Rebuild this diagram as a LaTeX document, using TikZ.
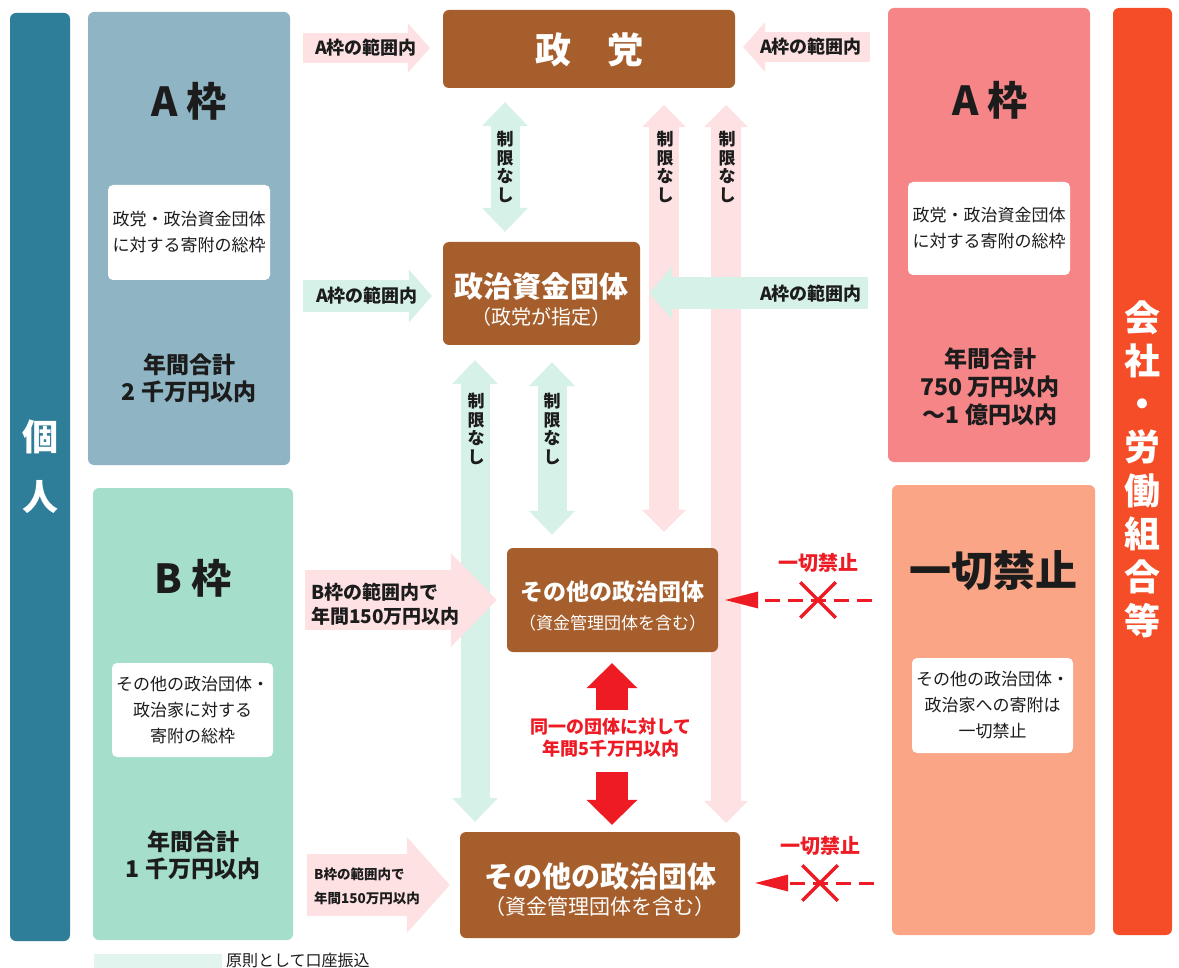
\documentclass[tikz,border=0pt]{standalone}
\usepackage{fontspec}
\setmainfont{Noto Sans CJK JP}
\usetikzlibrary{arrows.meta,shapes.misc}
\definecolor{kojinC}{HTML}{2E7D99}
\definecolor{aLeftC}{HTML}{8FB5C5}
\definecolor{bLeftC}{HTML}{A5DECB}
\definecolor{brownC}{HTML}{A65F2C}
\definecolor{pinkArr}{HTML}{FDE1E3}
\definecolor{greenArr}{HTML}{D6F1E8}
\definecolor{redC}{HTML}{EE1B24}
\definecolor{aRightC}{HTML}{F58587}
\definecolor{kinshiC}{HTML}{F9A586}
\definecolor{kaishaC}{HTML}{F44D27}
\definecolor{legC}{HTML}{E2F4EE}
\definecolor{inkC}{HTML}{1C1C1C}
\newcommand\fsz[2]{\fontsize{#1}{#2}\selectfont}
\pgfdeclarelayer{bg}
\pgfsetlayers{bg,main}
\tikzset{
 panel/.style={rounded corners=6pt, inner sep=0pt},
 whitebox/.style={fill=white, rounded corners=5pt, inner sep=0pt, align=center, text=inkC, font=\fsz{17}{26}},
 brownbox/.style={fill=brownC, rounded corners=6pt, inner sep=0pt},
 lbl/.style={inner sep=0pt, align=center, text=inkC},
 headline/.style={lbl, font=\fsz{40}{40}\bfseries},
 total/.style={lbl, font=\fsz{23}{27}\bfseries},
 wtxt/.style={inner sep=0pt, text=white},
 vlabel/.style={lbl, font=\fsz{17}{18.5}\bfseries},
 arrlbl/.style={lbl, font=\fsz{18}{18}\bfseries},
 pinkH/.style={draw=pinkArr, line width=30pt, -{Triangle[length=22pt,width=50pt,line width=0pt]}},
 greenH/.style={draw=greenArr, line width=32pt, -{Triangle[length=23pt,width=53pt,line width=0pt]}},
 pinkV/.style={draw=pinkArr, line width=30pt, {Triangle[length=22pt,width=44pt,line width=0pt]}-{Triangle[length=22pt,width=44pt,line width=0pt]}},
 greenV/.style={draw=greenArr, line width=29pt, {Triangle[length=24pt,width=46pt,line width=0pt]}-{Triangle[length=24pt,width=46pt,line width=0pt]}},
 pinkB/.style={draw=pinkArr, line width=60pt, -{Triangle[length=46pt,width=94pt,line width=0pt]}},
 pinkBB/.style={draw=pinkArr, line width=62pt, -{Triangle[length=43pt,width=96pt,line width=0pt]}},
 redF/.style={draw=redC, line width=32pt, -{Triangle[length=25pt,width=51pt,line width=0pt]}},
 redD/.style={draw=redC, line width=3pt, dash pattern=on 15pt off 8pt, -{Triangle[length=33pt,width=17pt,line width=0pt]}},
 ban/.style={cross out, draw=redC, line width=3.5pt, minimum width=32pt, minimum height=32pt, inner sep=0pt},
}
\begin{document}
\begin{tikzpicture}[x=1pt,y=-1pt]
\useasboundingbox (0,0) rectangle (1179,968);

% side bars
\node[panel, fill=kojinC, minimum width=60pt, minimum height=928pt] (kojin) at (40,477) {};
\node[wtxt, font=\fsz{36}{60}\bfseries, align=center] (kojinT) at (40,467) {個\\人};
\node[panel, fill=kaishaC, minimum width=59pt, minimum height=927pt] (kaisha) at (1142.5,471.5) {};
\node[wtxt, font=\fsz{36}{43.3}\bfseries, align=center] (kaishaT) at (1142,469) {会\\社\\・\\労\\働\\組\\合\\等};

% left panels
\node[panel, fill=aLeftC, minimum width=202pt, minimum height=453pt] (aL) at (189,238.5) {};
\node[headline] (aLt) at (189,101) {A 枠};
\node[whitebox, minimum width=162pt, minimum height=95pt] (aLw) at (189,232.5) {政党・政治資金団体\\に対する寄附の総枠};
\node[total] (aLs) at (189,378) {年間合計\\2 千万円以内};

\node[panel, fill=bLeftC, minimum width=200pt, minimum height=452pt] (bL) at (193,714) {};
\node[headline] (bLt) at (193,578) {B 枠};
\node[whitebox, minimum width=161pt, minimum height=94pt] (bLw) at (192.5,710) {その他の政治団体・\\政治家に対する\\寄附の総枠};
\node[total] (bLs) at (193,855) {年間合計\\1 千万円以内};

% right panels
\node[panel, fill=aRightC, minimum width=202pt, minimum height=454pt] (aR) at (989,235) {};
\node[headline] (aRt) at (990,100) {A 枠};
\node[whitebox, minimum width=162pt, minimum height=93pt] (aRw) at (989,228.5) {政党・政治資金団体\\に対する寄附の総枠};
\node[lbl, font=\fsz{23}{28}\bfseries] (aRs) at (990,387) {年間合計\\750 万円以内\\～1 億円以内};

\node[panel, fill=kinshiC, minimum width=203pt, minimum height=450pt] (kin) at (993.5,710) {};
\node[lbl, font=\fsz{42}{42}\bfseries] (kint) at (993,571) {一切禁止};
\node[whitebox, minimum width=161pt, minimum height=95pt] (kinw) at (992.5,705.5) {その他の政治団体・\\政治家への寄附は\\一切禁止};

% brown boxes
\node[brownbox, minimum width=292pt, minimum height=78pt] (seito) at (589,49) {};
\node[wtxt, font=\fsz{36}{36}\bfseries] (seitoT) at (589,50) {政　党};
\node[brownbox, minimum width=197pt, minimum height=103pt] (shikin) at (541.5,293.5) {};
\node[wtxt, font=\fsz{29}{29}\bfseries] (shikinT) at (541.5,286) {政治資金団体};
\node[wtxt, font=\fsz{20}{20}] (shikinS) at (541.5,317) {（政党が指定）};
\node[brownbox, minimum width=211pt, minimum height=104pt] (sonota1) at (612.5,600) {};
\node[wtxt, font=\fsz{23}{23}\bfseries] (sonota1T) at (612.5,592) {その他の政治団体};
\node[wtxt, font=\fsz{17}{17}] (sonota1S) at (612.5,623) {（資金管理団体を含む）};
\node[brownbox, minimum width=280pt, minimum height=106pt] (sonota2) at (600,885) {};
\node[wtxt, font=\fsz{29}{29}\bfseries] (sonota2T) at (600,876) {その他の政治団体};
\node[wtxt, font=\fsz{21}{21}] (sonota2S) at (600,907) {（資金管理団体を含む）};

% x positions of the vertical arrows
\coordinate (xP1) at (664,0);
\coordinate (xP2) at (726,0);
\coordinate (xG0) at (505,0);
\coordinate (xG1) at (475,0);
\coordinate (xG2) at (552,0);

\begin{pgfonlayer}{bg}
\fill[white] (0,0) rectangle (1179,968);
\draw[pinkV, shorten <=17pt, shorten >=16pt] (seito.south -| xP1) -- (sonota1.north -| xP1);
\draw[pinkV, shorten <=17pt, shorten >=9pt] (seito.south -| xP2) -- (sonota2.north -| xP2);
\draw[greenV, shorten <=14pt, shorten >=10pt] (seito.south -| xG0) -- (shikin.north -| xG0);
\draw[greenV, shorten <=15pt, shorten >=10pt] (shikin.south -| xG1) -- (sonota2.north -| xG1);
\draw[greenV, shorten <=17pt, shorten >=13pt] (shikin.south -| xG2) -- (sonota1.north -| xG2);

\coordinate (pAl) at (303,48);
\draw[pinkH, shorten >=13pt] (pAl) -- (pAl -| seito.west);
\coordinate (pAr) at (870,47);
\draw[pinkH, shorten >=8pt] (pAr) -- (pAr -| seito.east);
\coordinate (gAl) at (303,296);
\draw[greenH, shorten >=11pt] (gAl) -- (gAl -| shikin.west);
\coordinate (gAr) at (868,293);
\draw[greenH, shorten >=9pt] (gAr) -- (gAr -| shikin.east);

\coordinate (pB1) at (305,600);
\draw[pinkB, shorten >=10pt] (pB1) -- (pB1 -| sonota1.west);
\coordinate (pB2) at (307,885);
\draw[pinkBB, shorten >=10pt] (pB2) -- (pB2 -| sonota2.west);
\end{pgfonlayer}

% arrow labels
\node[arrlbl] (pAlT) at (366,48) {A枠の範囲内};
\node[arrlbl] (pArT) at (811,47) {A枠の範囲内};
\node[arrlbl] (gAlT) at (367,296) {A枠の範囲内};
\node[arrlbl] (gArT) at (811,294) {A枠の範囲内};
\node[vlabel] (vG0) at (505,167) {制\\限\\な\\し};
\node[vlabel] (vP1) at (665,167) {制\\限\\な\\し};
\node[vlabel] (vP2) at (727,167) {制\\限\\な\\し};
\node[vlabel] (vG1) at (476,429) {制\\限\\な\\し};
\node[vlabel] (vG2) at (552,429) {制\\限\\な\\し};
\node[lbl, font=\fsz{19}{24}\bfseries, align=left, anchor=west] (pB1T) at (311,604) {B枠の範囲内で\\年間150万円以内};
\node[lbl, font=\fsz{13.5}{24}\bfseries, align=left, anchor=west] (pB2T) at (314,886) {B枠の範囲内で\\年間150万円以内};

% red arrows
\coordinate (rU) at (612,710);
\draw[redF, shorten >=11pt] (rU) -- (rU |- sonota1.south);
\coordinate (rD) at (612,772);
\draw[redF, shorten >=7pt] (rD) -- (rD |- sonota2.north);
\node[lbl, text=redC, font=\fsz{18}{22}\bfseries] (rT) at (611,738) {同一の団体に対して\\年間5千万円以内};

\coordinate (d1) at (872,600);
\draw[redD, shorten >=7pt] (d1) -- (d1 -| sonota1.east);
\node[ban] (x1) at (818,600) {};
\node[lbl, text=redC, font=\fsz{20}{20}\bfseries] (k1) at (818,563) {一切禁止};
\coordinate (d2) at (874,883);
\draw[redD, shorten >=15pt] (d2) -- (d2 -| sonota2.east);
\node[ban] (x2) at (820,883) {};
\node[lbl, text=redC, font=\fsz{20}{20}\bfseries] (k2) at (820,846) {一切禁止};

% legend
\node[fill=legC, minimum width=128pt, minimum height=14pt, inner sep=0pt] (leg) at (158,961) {};
\node[lbl, font=\fsz{16}{16}, anchor=west] (legT) at (226,960) {原則として口座振込};
\end{tikzpicture}
\end{document}
